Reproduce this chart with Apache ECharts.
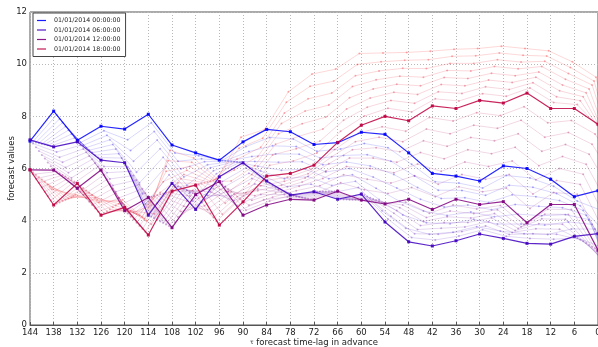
<!DOCTYPE html>
<html>
<head>
<meta charset="utf-8">
<script src="https://cdn.jsdelivr.net/npm/echarts@6.0.0/dist/echarts.min.js"></script>
<style>
  html, body { margin: 0; padding: 0; background: #ffffff; }
  #chart { width: 598px; height: 347px; }
</style>
</head>
<body>
<div id="chart"></div>
<script>
// Forecast lags (hours ahead of the 6-hourly target grid)
const lags = [144, 138, 132, 126, 120, 114, 108, 102, 96, 90, 84, 78, 72, 66, 60, 54, 48, 42, 36, 30, 24, 18, 12, 6, 0];
const yTicks = [0, 2, 4, 6, 8, 10, 12];

// Main forecast runs, issued 01/01/2014 at 00, 06, 12 and 18 h
const run00 = [7.05, 8.2, 7.08, 7.62, 7.51, 8.08, 6.9, 6.6, 6.32, 7.02, 7.5, 7.41, 6.92, 6.99, 7.39, 7.31, 6.6, 5.81, 5.71, 5.52, 6.1, 6.0, 5.59, 4.92, 5.15];
const run06 = [7.1, 6.83, 7.02, 6.32, 6.22, 4.21, 5.43, 4.43, 5.68, 6.22, 5.52, 4.98, 5.11, 4.82, 5.02, 3.95, 3.19, 3.03, 3.23, 3.49, 3.32, 3.13, 3.1, 3.4, 3.5];
const run12 = [5.95, 5.94, 5.24, 5.94, 4.38, 4.89, 3.73, 5.0, 5.5, 4.21, 4.6, 4.82, 4.79, 5.13, 4.79, 4.64, 4.82, 4.43, 4.82, 4.62, 4.73, 3.92, 4.62, 4.62, 2.87];
const run18 = [5.95, 4.6, 5.43, 4.21, 4.51, 3.45, 5.13, 5.36, 3.83, 4.72, 5.71, 5.81, 6.13, 7.0, 7.66, 8.0, 7.83, 8.4, 8.3, 8.61, 8.51, 8.89, 8.3, 8.3, 7.7];

// Intermediate runs issued between the main ones (faint traces)
const run0045 = [7.03, 8.05, 6.99, 7.45, 7.1, 7.75, 6.59, 6.49, 6.31, 6.84, 7.19, 7.13, 6.66, 6.75, 6.96, 6.8, 6.16, 5.49, 5.44, 5.25, 5.73, 5.64, 5.32, 4.75, 4.4];
const run0130 = [7.0, 7.9, 6.89, 7.27, 6.69, 7.42, 6.28, 6.37, 6.3, 6.65, 6.87, 6.84, 6.4, 6.5, 6.53, 6.28, 5.71, 5.17, 5.16, 4.97, 5.36, 5.28, 5.04, 4.57, 3.6];
const run0215 = [6.97, 7.76, 6.8, 7.1, 6.28, 7.09, 5.98, 6.26, 6.29, 6.46, 6.56, 6.55, 6.14, 6.25, 6.1, 5.77, 5.27, 4.85, 4.88, 4.7, 4.99, 4.92, 4.77, 4.39, 3.0];
const run0300 = [6.94, 7.61, 6.7, 6.92, 5.86, 6.76, 5.67, 6.14, 6.27, 6.27, 6.24, 6.26, 5.87, 6.0, 5.67, 5.25, 4.82, 4.52, 4.6, 4.42, 4.62, 4.55, 4.5, 4.21, 2.4];
const run0345 = [6.92, 7.47, 6.61, 6.75, 5.45, 6.43, 5.36, 6.03, 6.26, 6.09, 5.93, 5.98, 5.61, 5.76, 5.24, 4.74, 4.37, 4.2, 4.33, 4.15, 4.25, 4.19, 4.23, 4.04, 1.8];
const run0430 = [6.89, 7.32, 6.51, 6.57, 5.04, 6.09, 5.05, 5.91, 6.25, 5.9, 5.61, 5.69, 5.35, 5.51, 4.81, 4.22, 3.92, 3.88, 4.05, 3.87, 3.87, 3.83, 3.95, 3.86, 1.2];
const run0515 = [6.86, 7.17, 6.42, 6.4, 4.63, 5.76, 4.74, 5.8, 6.24, 5.71, 5.3, 5.4, 5.09, 5.27, 4.38, 3.71, 3.48, 3.56, 3.77, 3.6, 3.5, 3.47, 3.68, 3.68, 0.7];

const run0645 = [6.96, 6.63, 6.89, 6.08, 6.06, 4.15, 5.38, 4.57, 5.5, 6.02, 5.44, 4.96, 5.12, 4.82, 4.98, 4.06, 3.35, 3.26, 3.41, 3.65, 3.4, 3.32, 3.29, 3.34, 3.0];
const run0730 = [6.81, 6.43, 6.75, 5.84, 5.89, 4.09, 5.32, 4.7, 5.31, 5.82, 5.35, 4.93, 5.12, 4.81, 4.93, 4.17, 3.5, 3.48, 3.58, 3.8, 3.47, 3.5, 3.48, 3.27, 2.6];
const run0815 = [6.67, 6.24, 6.62, 5.6, 5.73, 4.03, 5.27, 4.84, 5.13, 5.62, 5.26, 4.91, 5.12, 4.81, 4.88, 4.28, 3.66, 3.71, 3.76, 3.96, 3.55, 3.69, 3.67, 3.21, 2.4];
const run0900 = [6.52, 6.04, 6.48, 5.35, 5.56, 3.97, 5.22, 4.97, 4.95, 5.41, 5.17, 4.89, 5.12, 4.8, 4.83, 4.39, 3.81, 3.93, 3.93, 4.11, 3.62, 3.88, 3.86, 3.14, 2.2];
const run0945 = [6.38, 5.84, 6.35, 5.11, 5.39, 3.91, 5.17, 5.1, 4.77, 5.21, 5.09, 4.87, 5.12, 4.8, 4.79, 4.5, 3.97, 4.15, 4.1, 4.27, 3.7, 4.07, 4.05, 3.07, 2.0];
const run1030 = [6.23, 5.64, 6.21, 4.87, 5.22, 3.85, 5.11, 5.23, 4.58, 5.0, 5.0, 4.84, 5.12, 4.8, 4.74, 4.6, 4.12, 4.37, 4.27, 4.42, 3.77, 4.25, 4.24, 3.0, 1.8];
const run1115 = [6.09, 5.44, 6.08, 4.63, 5.06, 3.79, 5.06, 5.37, 4.4, 4.8, 4.91, 4.82, 5.13, 4.8, 4.69, 4.71, 4.28, 4.6, 4.45, 4.58, 3.85, 4.44, 4.43, 2.94, 1.6];

const run1245 = [5.78, 5.88, 5.11, 5.76, 4.27, 4.92, 3.94, 4.86, 5.4, 4.4, 4.75, 4.99, 5.07, 5.45, 5.19, 5.04, 5.27, 4.92, 5.3, 5.11, 5.25, 4.47, 5.08, 5.01, 3.2];
const run1330 = [5.61, 5.81, 4.98, 5.58, 4.15, 4.95, 4.14, 4.71, 5.3, 4.59, 4.9, 5.15, 5.34, 5.76, 5.59, 5.44, 5.72, 5.4, 5.77, 5.59, 5.77, 5.02, 5.54, 5.39, 3.6];
const run1415 = [5.45, 5.75, 4.86, 5.41, 4.04, 4.98, 4.35, 4.57, 5.21, 4.78, 5.06, 5.32, 5.62, 6.08, 6.0, 5.84, 6.17, 5.89, 6.25, 6.08, 6.29, 5.57, 6.0, 5.78, 4.0];
const run1500 = [5.28, 5.69, 4.73, 5.23, 3.92, 5.01, 4.55, 4.42, 5.11, 4.96, 5.21, 5.48, 5.9, 6.4, 6.4, 6.24, 6.61, 6.37, 6.72, 6.57, 6.81, 6.11, 6.46, 6.16, 4.5];
const run1545 = [5.11, 5.63, 4.6, 5.05, 3.8, 5.04, 4.75, 4.27, 5.02, 5.15, 5.36, 5.64, 6.18, 6.72, 6.8, 6.64, 7.06, 6.85, 7.19, 7.06, 7.33, 6.66, 6.92, 6.55, 5.0];
const run1630 = [4.94, 5.56, 4.47, 4.87, 3.68, 5.07, 4.95, 4.12, 4.92, 5.34, 5.51, 5.8, 6.45, 7.03, 7.2, 7.03, 7.51, 7.33, 7.66, 7.54, 7.85, 7.2, 7.38, 6.93, 5.5];
const run1715 = [4.77, 5.5, 4.34, 4.69, 3.57, 5.1, 5.16, 3.98, 4.82, 5.53, 5.66, 5.97, 6.73, 7.35, 7.6, 7.43, 7.96, 7.82, 8.14, 8.03, 8.37, 7.75, 7.84, 7.32, 6.0];

const run1845 = [5.86, 4.65, 5.34, 4.29, 4.45, 3.86, 5.29, 5.39, 4.25, 5.07, 6.12, 6.29, 6.59, 7.43, 8.01, 8.31, 8.17, 8.67, 8.59, 8.87, 8.77, 9.09, 8.53, 8.45, 7.5];
const run1930 = [5.76, 4.7, 5.25, 4.36, 4.38, 4.26, 5.45, 5.42, 4.67, 5.42, 6.52, 6.76, 7.05, 7.85, 8.35, 8.61, 8.5, 8.94, 8.88, 9.13, 9.03, 9.29, 8.75, 8.6, 7.28];
const run2015 = [5.67, 4.75, 5.16, 4.44, 4.32, 4.67, 5.61, 5.45, 5.1, 5.77, 6.93, 7.24, 7.51, 8.28, 8.7, 8.92, 8.84, 9.22, 9.17, 9.39, 9.3, 9.5, 8.98, 8.75, 7.1];
const run2100 = [5.58, 4.8, 5.07, 4.51, 4.26, 5.08, 5.77, 5.48, 5.52, 6.11, 7.33, 7.72, 7.97, 8.71, 9.05, 9.23, 9.17, 9.49, 9.45, 9.65, 9.56, 9.7, 9.2, 8.9, 6.85];
const run2145 = [5.49, 4.85, 4.98, 4.58, 4.2, 5.49, 5.93, 5.51, 5.94, 6.46, 7.73, 8.2, 8.43, 9.14, 9.4, 9.54, 9.5, 9.76, 9.74, 9.91, 9.82, 9.91, 9.42, 9.05, 6.6];
const run2230 = [5.39, 4.9, 4.88, 4.65, 4.13, 5.89, 6.08, 5.54, 6.36, 6.81, 8.13, 8.67, 8.89, 9.56, 9.74, 9.84, 9.83, 10.03, 10.03, 10.17, 10.08, 10.11, 9.64, 9.2, 6.4];
const run2300 = [5.3, 4.95, 4.79, 4.73, 4.07, 6.3, 6.24, 5.57, 6.78, 7.16, 8.54, 9.15, 9.35, 9.99, 10.09, 10.15, 10.17, 10.3, 10.32, 10.43, 10.34, 10.31, 9.87, 9.35, 6.2];
const run2330 = [5.2, 5.0, 4.7, 4.8, 4.0, 6.7, 6.4, 5.6, 7.2, 7.5, 8.94, 9.62, 9.81, 10.41, 10.43, 10.45, 10.5, 10.57, 10.6, 10.69, 10.6, 10.51, 10.09, 9.5, 6.0];

const mainRuns = [
  { hour: 0, name: '01/01/2014 00:00:00', values: run00 },
  { hour: 6, name: '01/01/2014 06:00:00', values: run06 },
  { hour: 12, name: '01/01/2014 12:00:00', values: run12 },
  { hour: 18, name: '01/01/2014 18:00:00', values: run18 }
];
const faintRuns = [
  { hour: 0.75, values: run0045 }, { hour: 1.5, values: run0130 }, { hour: 2.25, values: run0215 },
  { hour: 3, values: run0300 }, { hour: 3.75, values: run0345 }, { hour: 4.5, values: run0430 },
  { hour: 5.25, values: run0515 },
  { hour: 6.75, values: run0645 }, { hour: 7.5, values: run0730 }, { hour: 8.25, values: run0815 },
  { hour: 9, values: run0900 }, { hour: 9.75, values: run0945 }, { hour: 10.5, values: run1030 },
  { hour: 11.25, values: run1115 },
  { hour: 12.75, values: run1245 }, { hour: 13.5, values: run1330 }, { hour: 14.25, values: run1415 },
  { hour: 15, values: run1500 }, { hour: 15.75, values: run1545 }, { hour: 16.5, values: run1630 },
  { hour: 17.25, values: run1715 },
  { hour: 18.75, values: run1845 }, { hour: 19.5, values: run1930 }, { hour: 20.25, values: run2015 },
  { hour: 21, values: run2100 }, { hour: 21.75, values: run2145 }, { hour: 22.5, values: run2230 },
  { hour: 23, values: run2300 }, { hour: 23.5, values: run2330 }
];

// Colour runs along a blue -> red ramp over the day of issue
function runColor(hour, alpha) {
  const t = hour / 24;
  return 'rgba(' + Math.round(255 * t) + ',0,' + Math.round(255 * (1 - t)) + ',' + alpha + ')';
}
// A run issued at `hour` reaches the same target grid, so its lags shift by the issue offset
function runPoints(hour, values) {
  const base = Math.floor(hour / 6) * 6;
  return values.map((v, j) => [base + lags[j] - hour, v]);
}

const series = [];
faintRuns.forEach(r => {
  series.push({
    type: 'line',
    data: runPoints(r.hour, r.values),
    symbol: 'circle',
    symbolSize: 2,
    showSymbol: true,
    silent: true,
    z: 1,
    lineStyle: { width: 0.8, color: runColor(r.hour, 0.2) },
    itemStyle: { color: runColor(r.hour, 0.3) },
    emphasis: { disabled: true }
  });
});
mainRuns.forEach(r => {
  series.push({
    type: 'line',
    name: r.name,
    data: runPoints(r.hour, r.values),
    symbol: 'rect',
    symbolSize: 3,
    z: 3,
    lineStyle: { width: 1.2, color: runColor(r.hour, 0.85) },
    itemStyle: { color: runColor(r.hour, 0.9) },
    emphasis: { disabled: true }
  });
});

const chart = echarts.init(document.getElementById('chart'), null, { renderer: 'canvas' });
const textColor = '#222222';
chart.setOption({
  animation: false,
  backgroundColor: '#ffffff',
  grid: {
    left: 30, right: 0, top: 12, bottom: 22,
    containLabel: false,
    outerBoundsMode: 'none',
    show: true, borderColor: '#555555', borderWidth: 1, backgroundColor: 'transparent'
  },
  legend: {
    data: mainRuns.map(r => r.name),
    orient: 'vertical',
    left: 33, top: 13,
    icon: 'rect',
    itemWidth: 9, itemHeight: 1.2,
    itemGap: 2.5,
    padding: [4, 5, 4, 4],
    borderColor: '#444444', borderWidth: 1,
    backgroundColor: '#ffffff',
    textStyle: { fontFamily: 'DejaVu Sans', fontSize: 6.3, color: textColor, lineHeight: 7, padding: [0, 0, 0, 3] },
    selectedMode: false
  },
  xAxis: {
    type: 'value',
    inverse: true,
    min: lags[lags.length - 1], max: lags[0], interval: 6,
    name: '{t|τ} forecast time-lag in advance',
    nameLocation: 'middle', nameGap: 13, nameMoveOverlap: false,
    nameTextStyle: { fontFamily: 'DejaVu Sans', fontSize: 8.5, color: textColor, rich: { t: { fontSize: 6, color: textColor } } },
    axisLine: { show: true, lineStyle: { color: '#555555', width: 1 } },
    axisTick: { show: true, inside: true, length: 3, lineStyle: { color: '#555555' } },
    axisLabel: { fontFamily: 'DejaVu Sans', fontSize: 8.5, color: textColor, margin: 3, showMinLabel: true, showMaxLabel: true },
    splitLine: { show: true, lineStyle: { color: '#b8b8b8', type: [1, 2], width: 1 } }
  },
  yAxis: {
    type: 'value',
    min: yTicks[0], max: yTicks[yTicks.length - 1], interval: 2,
    name: 'forecast values',
    nameLocation: 'middle', nameGap: 14, nameMoveOverlap: false,
    nameTextStyle: { fontFamily: 'DejaVu Sans', fontSize: 8.5, color: textColor },
    axisLine: { show: true, lineStyle: { color: '#555555', width: 1 } },
    axisTick: { show: true, inside: true, length: 3, lineStyle: { color: '#555555' } },
    axisLabel: { fontFamily: 'DejaVu Sans', fontSize: 8.5, color: textColor, margin: 3 },
    splitLine: { show: true, lineStyle: { color: '#b8b8b8', type: [1, 2], width: 1 } }
  },
  series: series
});
</script>
</body>
</html>
